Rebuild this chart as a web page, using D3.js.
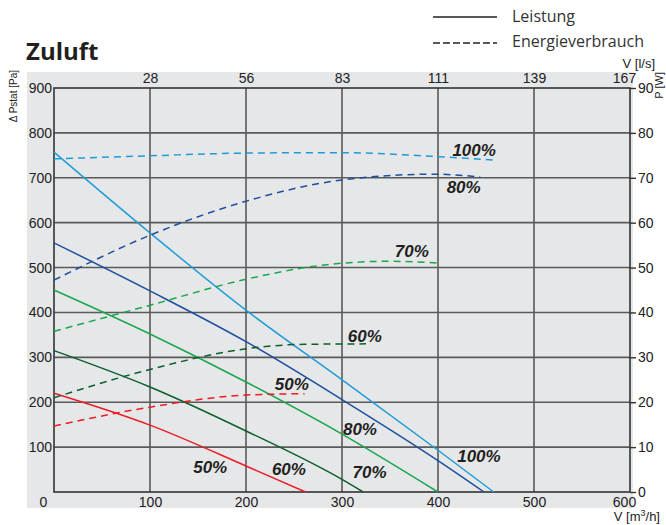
<!DOCTYPE html>
<html>
<head>
<meta charset="utf-8">
<script src="https://cdn.jsdelivr.net/npm/d3@7"></script>
<style>
  body { margin: 0; background: #fff; }
  .tick text { fill: #222; }
</style>
</head>
<body>
<div id="chart"></div>
<script>

// air flow ticks (m3/h) and their l/s equivalents on top
const flowTicks = [0, 100, 200, 300, 400, 500, 600];
const lsLabels = ["", "28", "56", "83", "111", "139", "167"];
const paTicks = [100, 200, 300, 400, 500, 600, 700, 800, 900];
const wTicks = [0, 10, 20, 30, 40, 50, 60, 70, 80, 90];

const speeds = ["50%", "60%", "70%", "80%", "100%"];
const colors = ["#ec1c24", "#0b5f2e", "#19a74e", "#1d4f9e", "#1e9cd7"];

// pressure curves [m3/h, Pa]
const press50 = [[0, 220], [100, 149], [200, 58], [262, 0]];
const press60 = [[0, 315], [100, 234], [200, 136], [300, 28], [322, 0]];
const press70 = [[0, 450], [100, 352], [200, 245], [300, 129], [400, 0]];
const press80 = [[0, 555], [100, 448], [200, 335], [300, 206], [400, 70], [448, 0]];
const press100 = [[0, 757], [100, 577], [200, 405], [300, 250], [400, 93], [458, 0]];

// power curves [m3/h, W]
const power50 = [[0, 14.7], [100, 18.9], [200, 21.6], [261, 21.9]];
const power60 = [[0, 21], [100, 27.3], [200, 31.9], [260, 32.9], [325, 33]];
const power70 = [[0, 35.8], [100, 41.6], [200, 47.4], [291, 50.8], [350, 51.4], [400, 51]];
const power80 = [[0, 47.2], [100, 57.2], [194, 64.4], [300, 69.5], [395, 70.8], [444, 70.2]];
const power100 = [[0, 74.2], [100, 74.9], [200, 75.5], [300, 75.6], [392, 74.8], [461, 73.9]];

// label anchors [m3/h, Pa]
const pressLabelPos = [[145, 42], [227, 38], [311, 31], [301, 127], [420, 67]];
const powerLabelPos = [[230, 227], [306, 334], [355, 523], [409, 666], [415, 748]];

const pressCurves = [press50, press60, press70, press80, press100];
const powerCurves = [power50, power60, power70, power80, power100];

const width = 666, height = 525;
const svg = d3.select("#chart").append("svg")
    .attr("width", width)
    .attr("height", height);

const tickFont = "'Liberation Sans', Arial, sans-serif";

// scales
const x = d3.scaleLinear().domain([0, 600]).range([54, 630]);
const y = d3.scaleLinear().domain([0, 900]).range([492, 88]);
const yW = d3.scaleLinear().domain([0, 90]).range([492, 88]);

// grey panel
svg.append("rect")
    .attr("x", 27).attr("y", 72)
    .attr("width", 606).attr("height", 436)
    .attr("fill", "#e6e7e9");

// grid
svg.append("g")
    .selectAll("line")
    .data(flowTicks.slice(1, -1))
    .join("line")
    .attr("x1", d => x(d)).attr("x2", d => x(d))
    .attr("y1", y(0)).attr("y2", y(900))
    .attr("stroke", "#5a5a5a").attr("stroke-width", 1.6);

svg.append("g")
    .selectAll("line")
    .data(paTicks.slice(0, -1))
    .join("line")
    .attr("x1", x(0)).attr("x2", x(600))
    .attr("y1", d => y(d)).attr("y2", d => y(d))
    .attr("stroke", "#5a5a5a").attr("stroke-width", 1.6);

svg.append("rect")
    .attr("x", x(0)).attr("y", y(900))
    .attr("width", x(600) - x(0)).attr("height", y(0) - y(900))
    .attr("fill", "none")
    .attr("stroke", "#333").attr("stroke-width", 1.6);

// axes
let bottomAxis = svg.append("g")
    .attr("transform", "translate(0," + y(0) + ")")
    .call(d3.axisBottom(x).tickValues(flowTicks).tickSize(0).tickPadding(5));
bottomAxis.selectAll("text").attr("dx", d => d == 0 ? -11 : (d == 600 ? -6 : 0));

let topAxis = svg.append("g")
    .attr("transform", "translate(0," + y(900) + ")")
    .call(d3.axisTop(x).tickValues(flowTicks.slice(1)).tickSize(0).tickPadding(5)
        .tickFormat((d, i) => lsLabels[i + 1]));
topAxis.selectAll("text").attr("dx", d => d == 600 ? -6 : 0);

svg.append("g")
    .attr("transform", "translate(" + x(0) + ",0)")
    .call(d3.axisLeft(y).tickValues(paTicks).tickSize(0).tickPadding(2));

let rightAxis = svg.append("g")
    .attr("transform", "translate(" + x(600) + ",0)")
    .call(d3.axisRight(yW).tickValues(wTicks).tickSize(6).tickPadding(2));
rightAxis.selectAll("line").attr("stroke", "#333").attr("stroke-width", 1.4);

svg.selectAll(".domain").remove();
svg.selectAll(".tick text")
    .style("font-family", tickFont)
    .style("font-size", "14px");

// axis titles
svg.append("text")
    .attr("transform", "translate(17,70) rotate(-90)")
    .attr("text-anchor", "end")
    .style("font-family", tickFont).style("font-size", "10px").attr("fill", "#222")
    .text("Δ Pstat [Pa]");

svg.append("text")
    .attr("transform", "translate(663,72) rotate(-90)")
    .attr("text-anchor", "end")
    .style("font-family", tickFont).style("font-size", "11px").attr("fill", "#222")
    .text("P [W]");

svg.append("text")
    .attr("x", 655).attr("y", 68)
    .attr("text-anchor", "end")
    .style("font-family", tickFont).style("font-size", "13px").attr("fill", "#222")
    .text("V [l/s]");

let vLab = svg.append("text")
    .attr("x", 660).attr("y", 521)
    .attr("text-anchor", "end")
    .style("font-family", tickFont).style("font-size", "13px").attr("fill", "#222");
vLab.append("tspan").text("V [m");
vLab.append("tspan").attr("dy", -5).style("font-size", "9px").text("3");
vLab.append("tspan").attr("dy", 5).text("/h]");

// title
svg.append("text")
    .attr("x", 26).attr("y", 60)
    .style("font-family", "'Open Sans', sans-serif")
    .style("font-size", "24px").style("font-weight", "bold")
    .attr("fill", "#231f20")
    .text("Zuluft");

// legend
let legend = svg.append("g");
legend.append("line")
    .attr("x1", 433).attr("x2", 497).attr("y1", 17).attr("y2", 17)
    .attr("stroke", "#222").attr("stroke-width", 1.5);
legend.append("line")
    .attr("x1", 433).attr("x2", 497).attr("y1", 43).attr("y2", 43)
    .attr("stroke", "#222").attr("stroke-width", 1.5)
    .attr("stroke-dasharray", "7,3");
legend.append("text")
    .attr("x", 512).attr("y", 22)
    .style("font-family", "'Open Sans', sans-serif").style("font-size", "16px")
    .attr("fill", "#333")
    .text("Leistung");
legend.append("text")
    .attr("x", 512).attr("y", 47)
    .style("font-family", "'Open Sans', sans-serif").style("font-size", "16px")
    .attr("fill", "#333")
    .text("Energieverbrauch");

// curves
const pressLine = d3.line()
    .x(d => x(d[0])).y(d => y(d[1]))
    .curve(d3.curveMonotoneX);
const powerLine = d3.line()
    .x(d => x(d[0])).y(d => yW(d[1]))
    .curve(d3.curveMonotoneX);

svg.append("g")
    .selectAll("path")
    .data(pressCurves)
    .join("path")
    .attr("d", d => pressLine(d))
    .attr("fill", "none")
    .attr("stroke", (d, i) => colors[i])
    .attr("stroke-width", 1.5);

svg.append("g")
    .selectAll("path")
    .data(powerCurves)
    .join("path")
    .attr("d", d => powerLine(d))
    .attr("fill", "none")
    .attr("stroke", (d, i) => colors[i])
    .attr("stroke-width", 1.5)
    .attr("stroke-dasharray", "7,5");

// curve labels
const labelStyle = sel => sel
    .style("font-family", tickFont)
    .style("font-size", "17px")
    .style("font-weight", "bold")
    .style("font-style", "italic")
    .attr("fill", "#231f20");

svg.append("g")
    .selectAll("text")
    .data(pressLabelPos)
    .join("text")
    .attr("x", d => x(d[0])).attr("y", d => y(d[1]))
    .text((d, i) => speeds[i])
    .call(labelStyle);

svg.append("g")
    .selectAll("text")
    .data(powerLabelPos)
    .join("text")
    .attr("x", d => x(d[0])).attr("y", d => y(d[1]))
    .text((d, i) => speeds[i])
    .call(labelStyle);

</script>
</body>
</html>
